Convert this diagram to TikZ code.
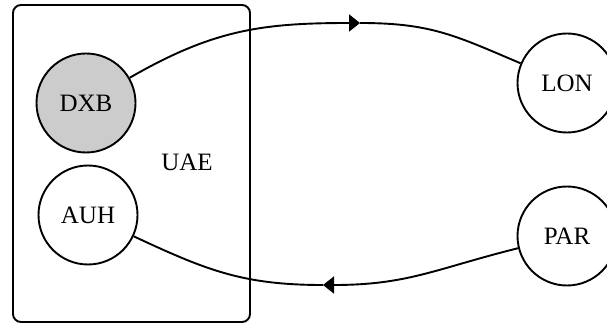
\documentclass[tikz,border=0pt]{standalone}
\usepackage{fontspec}
\setmainfont{Liberation Serif}
\usetikzlibrary{arrows.meta}

\definecolor{hubgray}{RGB}{204,204,204}

\begin{document}
\begin{tikzpicture}[
    x=1pt, y=1pt,
    city/.style={circle, draw=black, line width=1.9pt, minimum size=99pt, inner sep=0pt, font=\fontsize{25}{28}\selectfont},
    hub/.style={city, fill=hubgray},
    region/.style={rectangle, draw=black, line width=1.9pt, rounded corners=8pt, minimum width=237pt, minimum height=317pt},
    route/.style={line width=1.9pt},
    tip/.style={route, -{Triangle[length=11pt,width=17pt]}}
]
\useasboundingbox (0,0) rectangle (607,324);
\clip (0,0) rectangle (607,324);
% Nodes
\node [region] (uae) at (131.5,160.5) {};
\node [font=\fontsize{25}{28}\selectfont] (uaelabel) at (187,162) {UAE};
\node [hub] (dxb) at (86,221) {DXB};
\node [city] (auh) at (88,109) {AUH};
\node [city] (lon) at (567,241) {LON};
\node [city] (par) at (567,88) {PAR};
\coordinate (outbound) at (360,301);
\coordinate (inbound) at (323,39);

% Connections
\draw [tip] (dxb) to[out=30, in=180, looseness=1.05] (outbound);
\draw [route] (outbound) to[out=0, in=157, looseness=1.1] (lon);
\draw [tip] (par) to[out=194, in=0, looseness=1.1] (inbound);
\draw [route] (inbound) to[out=180, in=-25, looseness=1.05] (auh);
\end{tikzpicture}
\end{document}
